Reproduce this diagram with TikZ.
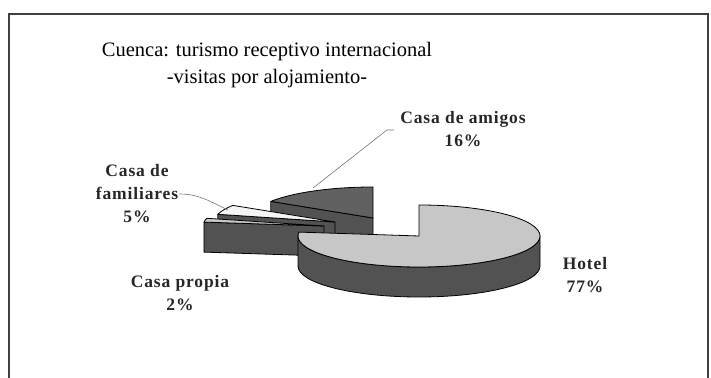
\documentclass[tikz,border=0pt]{standalone}
\usepackage{fontspec}
\setmainfont{Liberation Serif}
\newfontfamily\lblfont[LetterSpace=5]{Liberation Serif}
\usetikzlibrary{positioning}

\begin{document}
\begin{tikzpicture}[x=1pt,y=1pt,
        toptxt/.style={font=\fontsize{20.5}{27}\selectfont,align=center,inner sep=0pt},
        lbl/.style={font=\lblfont\bfseries\fontsize{17.5}{23}\selectfont,align=center,inner sep=1pt,text=black!85},
        leader/.style={draw=black!55,line width=0.6pt},
        edge/.style={draw=black,line width=0.8pt,line join=round},
        lighttop/.style={edge,fill=black!22},
        darktop/.style={edge,fill=black!62},
        darkside/.style={edge,fill=black!68},
        whitetop/.style={edge,fill=black!4}]
    \useasboundingbox (0,0) rectangle (711,377);
    \draw[black!75,line width=1.5pt] (9,-5) -- (9,363) -- (708,363) -- (708,-5);

    \node[toptxt] (title) at (267,312) {Cuenca: turismo receptivo internacional\\-visitas por alojamiento-};

    \coordinate (amigos) at (373,159);
    \coordinate (famil) at (335,155);
    \coordinate (propia) at (324,151);
    \coordinate (hotel) at (419,141);

    % casa de amigos
    \path[darkside] (amigos) -- ([shift={(amigos)}]147.6:121 and 31) -- ++(0,-30)
        -- ([yshift=-30pt]amigos) -- cycle;
    \path[darktop] (amigos) -- ([shift={(amigos)}]90:121 and 31)
        arc[start angle=90,end angle=147.6,x radius=121,y radius=31] -- cycle;

    % casa de familiares
    \path[darkside] (famil) -- ([shift={(famil)}]165.6:121 and 31) -- ++(0,-30)
        -- ([yshift=-30pt]famil) -- cycle;
    \path[whitetop] (famil) -- ([shift={(famil)}]147.6:121 and 31)
        arc[start angle=147.6,end angle=165.6,x radius=121,y radius=31] -- cycle;

    % casa propia
    \path[darkside] (propia) -- ([shift={(propia)}]172.8:121 and 31) -- ++(0,-30)
        -- ([yshift=-30pt]propia) -- cycle;
    \path[lighttop] (propia) -- ([shift={(propia)}]165.6:121 and 31)
        arc[start angle=165.6,end angle=172.8,x radius=121,y radius=31] -- cycle;

    % hotel
    \path[darkside] ([shift={(hotel)}]180:121 and 31)
        arc[start angle=180,end angle=360,x radius=121,y radius=31] -- ++(0,-30)
        arc[start angle=360,end angle=180,x radius=121,y radius=31] -- cycle;
    \path[lighttop] (hotel) -- ([shift={(hotel)}]90:121 and 31)
        arc[start angle=90,end angle=-187.2,x radius=121,y radius=31] -- cycle;

    \node[lbl] (lamigos) at (463,248) {Casa de amigos\\16\%};
    \node[lbl] (lfamil) at (137,183) {Casa de\\familiares\\5\%};
    \node[lbl] (lpropia) at (180,84) {Casa propia\\2\%};
    \node[lbl] (lhotel) at (585,102) {Hotel\\77\%};

    \coordinate (pamigos) at (313,189);
    \coordinate (kamigos) at (387,247);
    \coordinate (eamigos) at (394,247);
    \coordinate (pfamil) at (228,167);
    \draw[leader] (pamigos) -- (kamigos) -- (eamigos);
    \draw[leader] (lfamil.east) to[out=0,in=155] (pfamil);
\end{tikzpicture}
\end{document}
